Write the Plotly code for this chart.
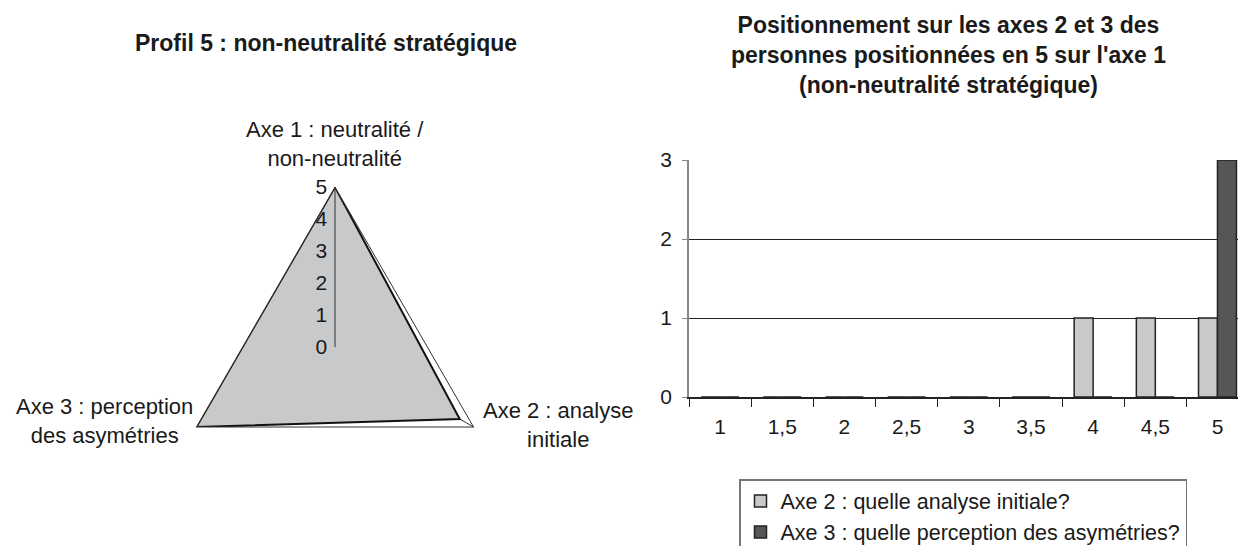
import plotly.graph_objects as go

# Radar data
radar_axes = ["Axe 1 : neutralité /<br>non-neutralité",
              "Axe 2 : analyse<br>initiale",
              "Axe 3 : perception<br>des asymétries"]
radar_values = [5, 4.5, 5]
radar_ticks = [0, 1, 2, 3, 4, 5]

# Bar data
categories = ["1", "1,5", "2", "2,5", "3", "3,5", "4", "4,5", "5"]
axe2_counts = [0, 0, 0, 0, 0, 0, 1, 1, 1]
axe3_counts = [0, 0, 0, 0, 0, 0, 0, 0, 3]
series_names = ["Axe 2 : quelle analyse initiale?",
                "Axe 3 : quelle perception des asymétries?"]
y_ticks = [0, 1, 2, 3]

FONT = "Liberation Sans, Arial, sans-serif"
W, H = 1238, 546

fig = go.Figure()

fig.add_trace(go.Scatterpolar(
    r=radar_values + radar_values[:1],
    theta=radar_axes + radar_axes[:1],
    mode="lines",
    fill="toself",
    fillcolor="#c8c9cb",
    line=dict(color="#111111", width=2),
    showlegend=False,
    hoverinfo="skip",
))

fig.add_trace(go.Bar(
    x=categories, y=axe2_counts, name=series_names[0],
    marker=dict(color="#c8c9cb", line=dict(color="#222222", width=1.5)),
    xaxis="x", yaxis="y",
))
fig.add_trace(go.Bar(
    x=categories, y=axe3_counts, name=series_names[1],
    marker=dict(color="#555657", line=dict(color="#222222", width=1.5)),
    xaxis="x", yaxis="y",
))

cx, cy, R = 335, 347, 160  # radar center / radius in pixels (layout only)

# Axis-name labels of the radar, placed around the vertices
label_pos = [(335, 144), (558, 425), (104, 421)]
radar_label_ann = [
    dict(text=t, x=px / W, y=1 - py / H, xref="paper", yref="paper",
         showarrow=False, align="center", xanchor="center", yanchor="middle",
         font=dict(size=22, color="#1a1a1a"))
    for t, (px, py) in zip(radar_axes, label_pos)
]

fig.update_layout(
    width=W, height=H,
    margin=dict(l=0, r=0, t=0, b=0, autoexpand=False),
    paper_bgcolor="white",
    plot_bgcolor="white",
    font=dict(family=FONT, size=21, color="#1a1a1a"),
    barmode="group",
    bargap=0.39,
    bargroupgap=0,
    polar=dict(
        domain=dict(x=[(cx - R) / W, (cx + R) / W],
                    y=[(H - cy - R) / H, (H - cy + R) / H]),
        bgcolor="white",
        gridshape="linear",
        radialaxis=dict(range=[0, 5], tickvals=radar_ticks, angle=90,
                        showgrid=False, showline=True, linecolor="#333333",
                        linewidth=1, ticks="", tickangle=90,
                        tickfont=dict(size=21), side="counterclockwise"),
        angularaxis=dict(rotation=90, direction="clockwise",
                         showgrid=True, gridcolor="#333333", gridwidth=1,
                         showline=True, linecolor="#333333", linewidth=1,
                         ticks="", showticklabels=False),
    ),
    xaxis=dict(domain=[689 / W, 1.0], anchor="y", type="category",
               range=[-0.5, 8.33],
               showline=True, linecolor="#222222", linewidth=1.5,
               ticks="outside", tickson="boundaries", ticklen=8,
               tickcolor="#222222", tickfont=dict(size=21), showgrid=False,
               ticklabelstandoff=10),
    yaxis=dict(domain=[(H - 397) / H, (H - 160) / H], anchor="x", range=[0, 3],
               tickvals=y_ticks, showline=True, linecolor="#888888",
               linewidth=1.5, ticks="outside", ticklen=5, tickcolor="#888888",
               showgrid=True, gridcolor="#222222", gridwidth=1,
               tickfont=dict(size=21), zeroline=False, ticklabelstandoff=6),
    legend=dict(x=739 / W, y=1 - 479 / H, xanchor="left", yanchor="top",
                bordercolor="#777777", borderwidth=1.5, bgcolor="white",
                font=dict(size=21.5), tracegroupgap=0, itemwidth=30),
    annotations=[
        dict(text="<b>Profil 5 : non-neutralité stratégique</b>",
             x=326 / W, y=1 - 43 / H, xref="paper", yref="paper",
             showarrow=False, font=dict(size=23), xanchor="center", yanchor="middle"),
        dict(text="<b>Positionnement sur les axes 2 et 3 des<br>personnes positionnées en 5 sur l'axe 1<br>(non-neutralité stratégique)</b>",
             x=948 / W, y=1 - 55 / H, xref="paper", yref="paper",
             showarrow=False, font=dict(size=23), xanchor="center", yanchor="middle"),
    ] + radar_label_ann,
)

fig.write_html("out.html", config={"displayModeBar": False},
               post_script="document.body.style.margin='0px';")
